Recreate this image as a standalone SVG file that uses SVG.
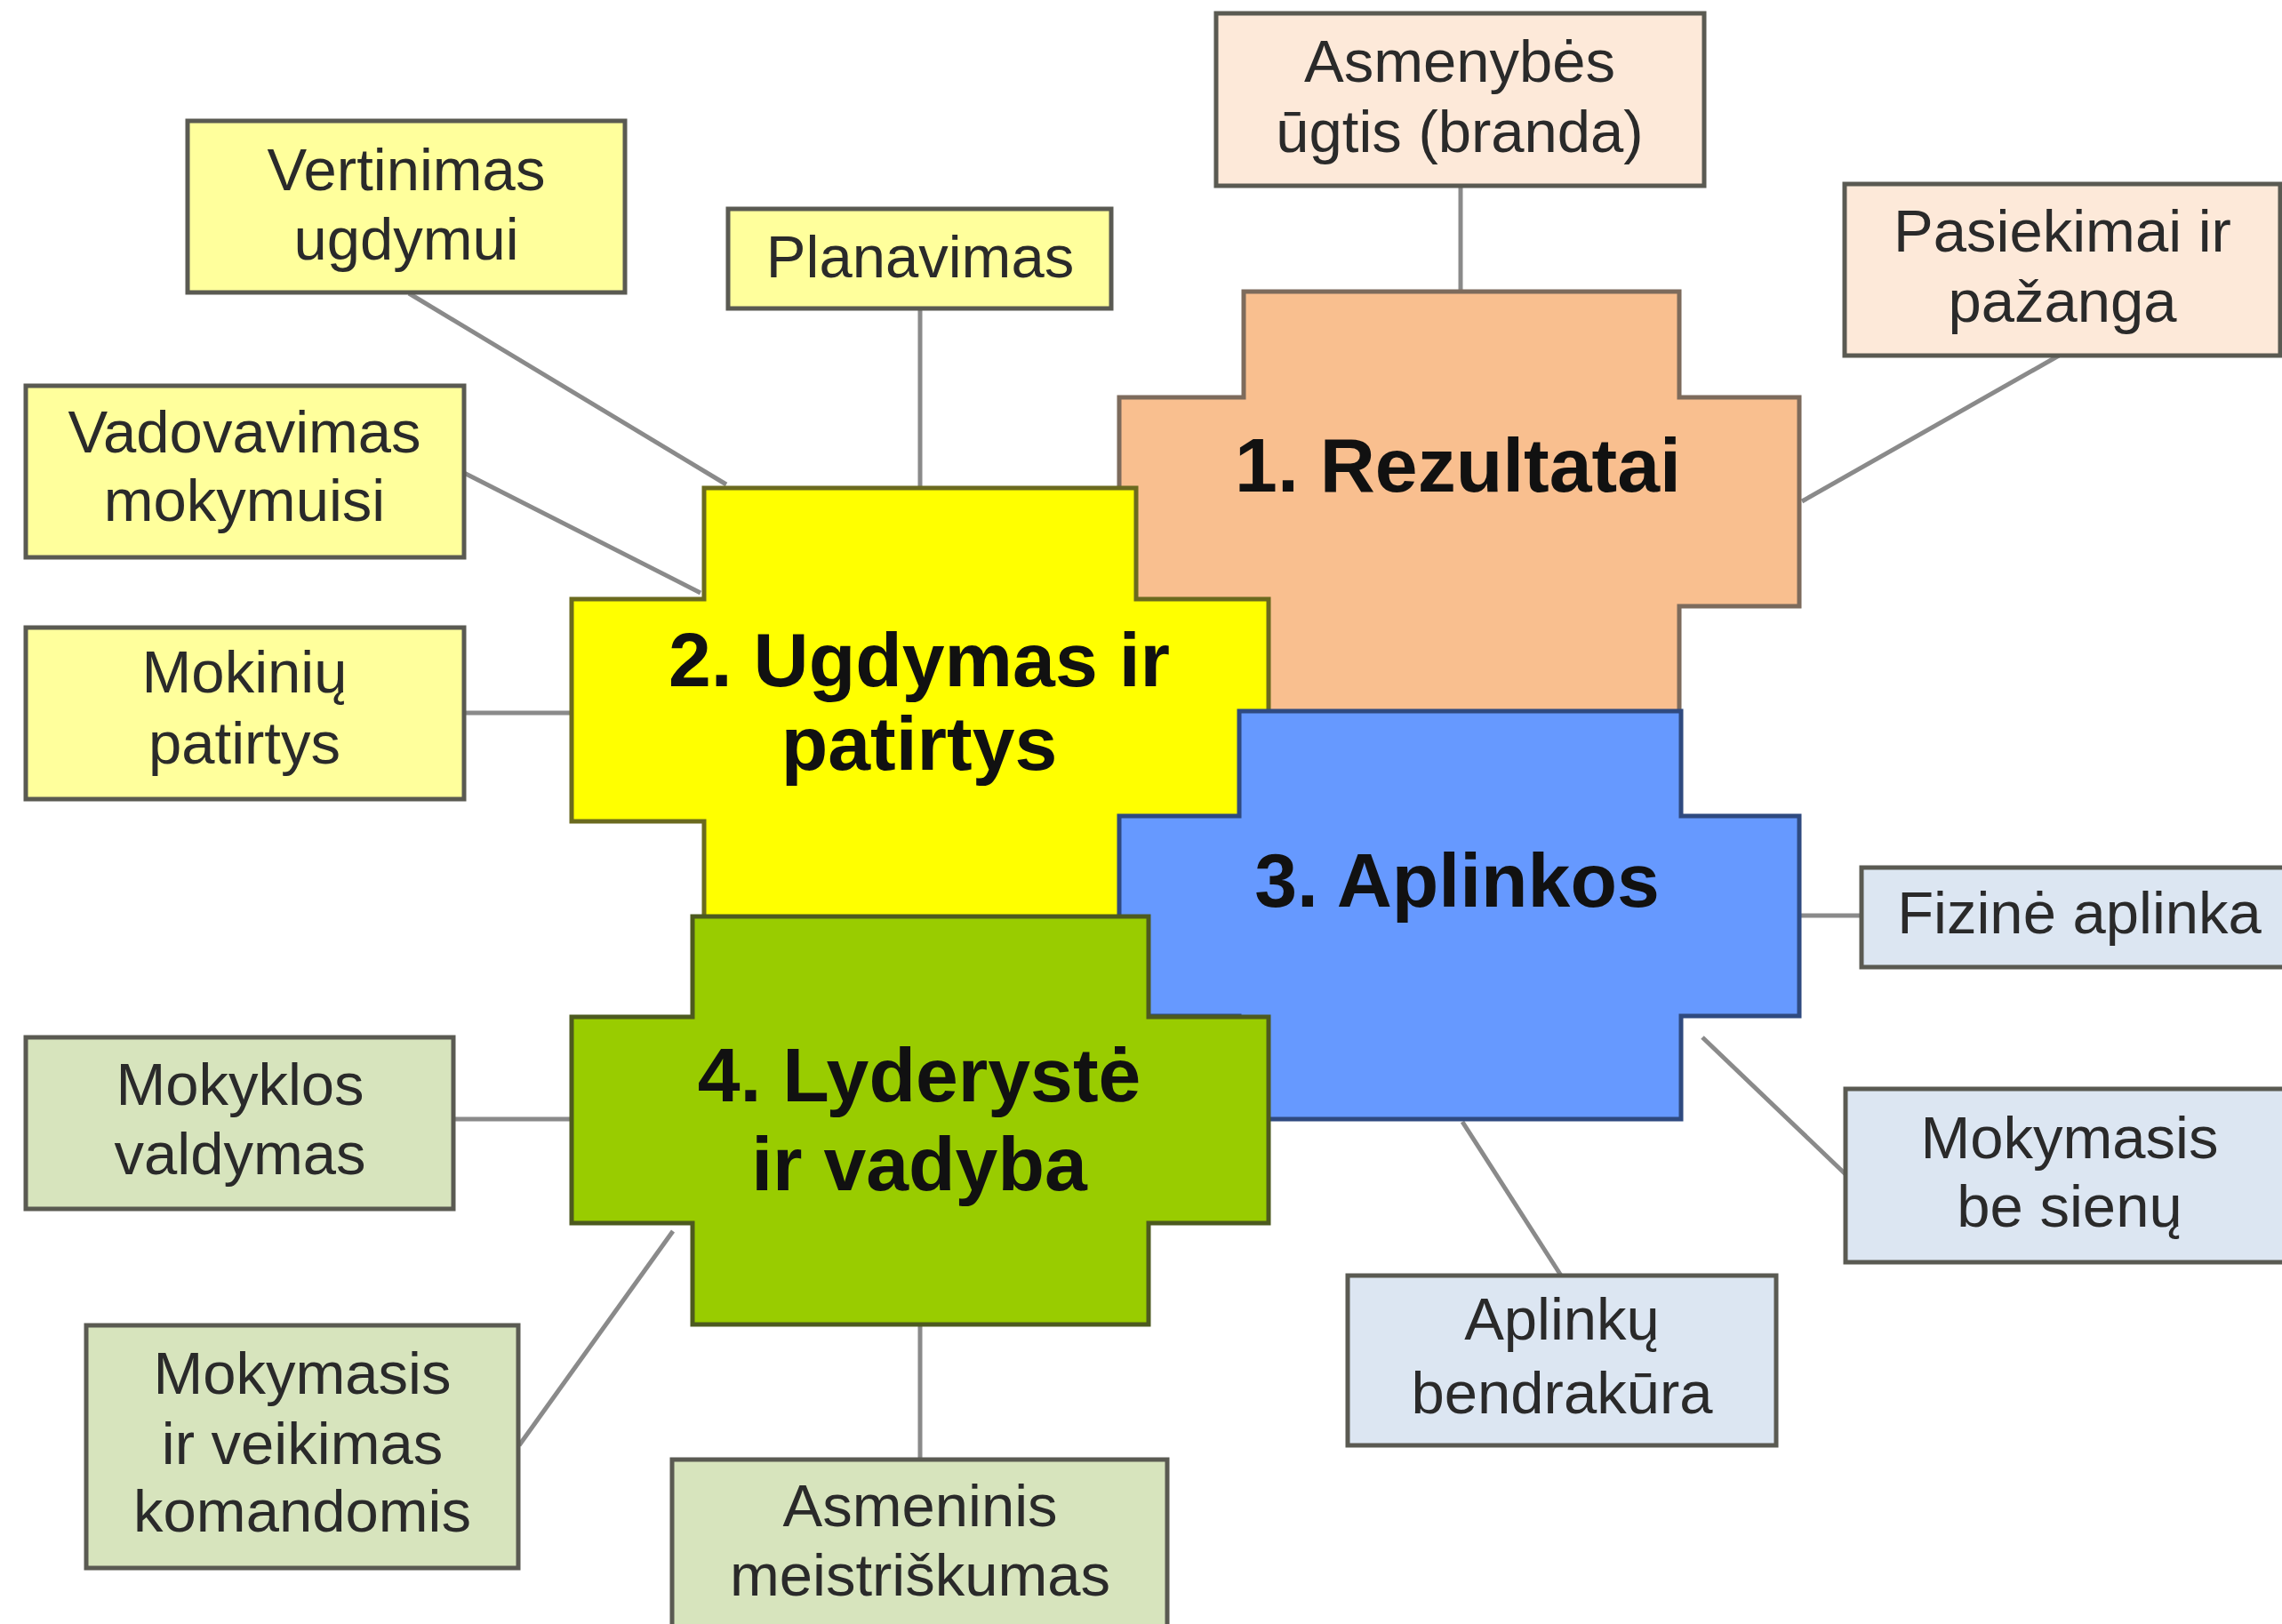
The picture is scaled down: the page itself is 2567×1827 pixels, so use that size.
<svg xmlns="http://www.w3.org/2000/svg" width="2567" height="1827" viewBox="0 0 2567 1827">
<style>
.bg{fill:#ffffff}
.conn line{stroke:#8a8a8a;stroke-width:5}
.sat{stroke:#5a5a52;stroke-width:5}
.y{fill:#ffff9c}
.o{fill:#fde9d9}
.b{fill:#dce6f2}
.g{fill:#d7e4bd}
.st{font-family:"Liberation Sans",Arial,sans-serif;font-size:67px;fill:#2a2a2a;text-anchor:middle}
.big{font-family:"Liberation Sans",Arial,sans-serif;font-size:86px;font-weight:bold;fill:#111111;text-anchor:middle}
</style>
<rect class="bg" x="0" y="0" width="2567" height="1827"/>
<g id="connectors" class="conn">
<line x1="1643" y1="209" x2="1643" y2="328"/>
<line x1="2316" y1="400" x2="2027" y2="564"/>
<line x1="460" y1="330" x2="817" y2="545"/>
<line x1="1035" y1="347" x2="1035" y2="549"/>
<line x1="522" y1="532" x2="788" y2="667"/>
<line x1="522" y1="802" x2="643" y2="802"/>
<line x1="2024" y1="1030" x2="2094" y2="1030"/>
<line x1="1915" y1="1167" x2="2076" y2="1321"/>
<line x1="1645" y1="1262" x2="1756" y2="1435"/>
<line x1="510" y1="1259" x2="643" y2="1259"/>
<line x1="584" y1="1626" x2="757" y2="1385"/>
<line x1="1035" y1="1490" x2="1035" y2="1642"/>
</g>
<g id="n1-rezultatai">
<path d="M1399,328 H1889 V447 H2024 V682 H1889 V801 H1399 V682 H1259 V447 H1399 Z" fill="#f9bf8f" stroke="#7d6b5c" stroke-width="5"/>
<text class="big" x="1640" y="553">1. Rezultatai</text>
</g>
<g id="n2-ugdymas">
<path d="M792,549 H1278 V674 H1427 V924 H1278 V1049 H792 V924 H643 V674 H792 Z" fill="#ffff00" stroke="#6b6a1e" stroke-width="5"/>
<text class="big" x="1034" y="772">2. Ugdymas ir</text>
<text class="big" x="1034" y="866">patirtys</text>
</g>
<g id="n3-aplinkos">
<path d="M1394,800 H1891 V918 H2024 V1143 H1891 V1259 H1394 V1143 H1259 V918 H1394 Z" fill="#6699ff" stroke="#2f4a80" stroke-width="5"/>
<text class="big" x="1639" y="1020">3. Aplinkos</text>
</g>
<g id="n4-lyderyste">
<path d="M779,1031 H1292 V1144 H1427 V1376 H1292 V1490 H779 V1376 H643 V1144 H779 Z" fill="#99cc00" stroke="#4d5a1f" stroke-width="5"/>
<text class="big" x="1034" y="1239">4. Lyderystė</text>
<text class="big" x="1034" y="1339">ir vadyba</text>
</g>
<g id="s-asmenybes">
<rect class="sat o" x="1368" y="15" width="549" height="194"/>
<text class="st" x="1642" y="92">Asmenybės</text>
<text class="st" x="1642" y="171">ūgtis (branda)</text>
</g>
<g id="s-pasiekimai">
<rect class="sat o" x="2075" y="207" width="490" height="193"/>
<text class="st" x="2320" y="283">Pasiekimai ir</text>
<text class="st" x="2320" y="362">pažanga</text>
</g>
<g id="s-vertinimas">
<rect class="sat y" x="211" y="136" width="492" height="193"/>
<text class="st" x="457" y="214">Vertinimas</text>
<text class="st" x="457" y="292">ugdymui</text>
</g>
<g id="s-planavimas">
<rect class="sat y" x="819" y="235" width="431" height="112"/>
<text class="st" x="1035" y="312">Planavimas</text>
</g>
<g id="s-vadovavimas">
<rect class="sat y" x="29" y="434" width="493" height="193"/>
<text class="st" x="275" y="509">Vadovavimas</text>
<text class="st" x="275" y="586">mokymuisi</text>
</g>
<g id="s-mokiniu">
<rect class="sat y" x="29" y="706" width="493" height="193"/>
<text class="st" x="275" y="779">Mokinių</text>
<text class="st" x="275" y="859">patirtys</text>
</g>
<g id="s-fizine">
<rect class="sat b" x="2094" y="976" width="500" height="112"/>
<text class="st" x="2339" y="1050">Fizinė aplinka</text>
</g>
<g id="s-be-sienu">
<rect class="sat b" x="2076" y="1225" width="520" height="195"/>
<text class="st" x="2328" y="1303">Mokymasis</text>
<text class="st" x="2328" y="1380">be sienų</text>
</g>
<g id="s-aplinku">
<rect class="sat b" x="1516" y="1435" width="482" height="191"/>
<text class="st" x="1757" y="1507">Aplinkų</text>
<text class="st" x="1757" y="1590">bendrakūra</text>
</g>
<g id="s-mokyklos">
<rect class="sat g" x="29" y="1167" width="481" height="193"/>
<text class="st" x="270" y="1243">Mokyklos</text>
<text class="st" x="270" y="1321">valdymas</text>
</g>
<g id="s-komandomis">
<rect class="sat g" x="97" y="1491" width="486" height="273"/>
<text class="st" x="340" y="1568">Mokymasis</text>
<text class="st" x="340" y="1647">ir veikimas</text>
<text class="st" x="340" y="1723">komandomis</text>
</g>
<g id="s-asmeninis">
<rect class="sat g" x="756" y="1642" width="557" height="200"/>
<text class="st" x="1035" y="1717">Asmeninis</text>
<text class="st" x="1035" y="1795">meistriškumas</text>
</g>
</svg>
